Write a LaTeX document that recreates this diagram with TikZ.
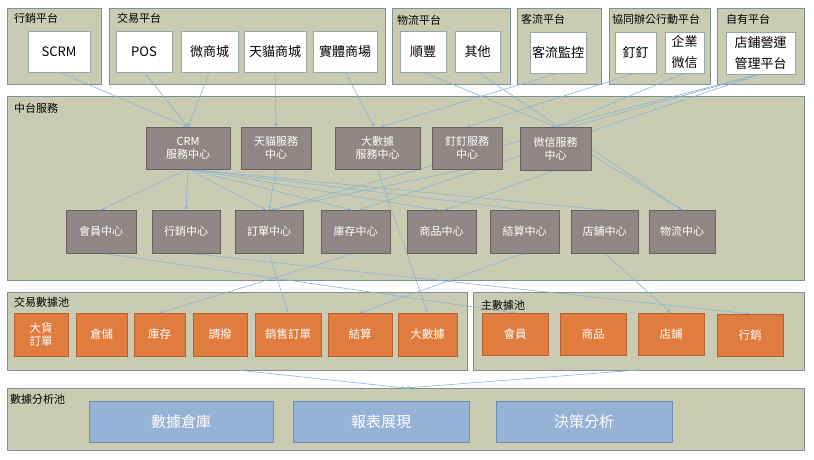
\documentclass[tikz,border=0pt]{standalone}
\usepackage{fontspec}
\setmainfont{Noto Sans CJK TC}
\usetikzlibrary{arrows.meta}
\definecolor{contfill}{RGB}{201,204,178}
\definecolor{contline}{RGB}{125,145,152}
\definecolor{wline}{RGB}{150,168,165}
\definecolor{svcfill}{RGB}{145,134,134}
\definecolor{svcline}{RGB}{105,96,96}
\definecolor{orfill}{RGB}{224,124,62}
\definecolor{orline}{RGB}{178,96,52}
\definecolor{blfill}{RGB}{149,179,214}
\definecolor{blline}{RGB}{112,142,180}
\definecolor{connc}{RGB}{140,180,212}
\pgfdeclarelayer{back}\pgfdeclarelayer{mid}\pgfsetlayers{back,mid,main}
\newcommand\bx[7]{\node[#1, minimum width={(#5-#3)*1pt}, minimum height={(#6-#4)*1pt}] (#2) at ({(#3+#5)/2},{(#4+#6)/2}) {#7};}
\tikzset{
 base/.style={inner sep=0pt, outer sep=0pt, align=center, line width=0.8pt},
 cont/.style={base, draw=contline, fill=contfill},
 wbox/.style={base, draw=wline, fill=white, text=black, font=\fontsize{13}{21}\selectfont},
 svc/.style={base, draw=svcline, fill=svcfill, text=white, font=\fontsize{11}{13}\selectfont},
 orbox/.style={base, draw=orline, fill=orfill, text=white, font=\fontsize{11.5}{13}\selectfont},
 blbox/.style={base, draw=blline, fill=blfill, text=white, font=\fontsize{15}{17}\selectfont},
 lbl/.style={inner sep=0pt, anchor=west, text=black, font=\fontsize{11}{12}\selectfont},
 conn/.style={draw=connc, line width=0.6pt, -{Stealth[length=4pt,width=3.5pt]}},
}
\begin{document}
\begin{tikzpicture}[x=1pt,y=-1pt]
\useasboundingbox (0,0) rectangle (814,460);
\begin{pgfonlayer}{back}
\fill[white] (0,0) rectangle (814,460);
\bx{cont}{c1}{7}{8}{101}{84}{}
\bx{cont}{c2}{109}{8}{385}{84}{}
\bx{cont}{c3}{392}{8}{510}{84}{}
\bx{cont}{c4}{517}{8}{601}{84}{}
\bx{cont}{c5}{609}{8}{710}{84}{}
\bx{cont}{c6}{717}{8}{804}{84}{}
\bx{cont}{c7}{7}{96}{804}{280}{}
\bx{cont}{c8}{7}{292}{467}{370}{}
\bx{cont}{c9}{473}{292}{804}{370}{}
\bx{cont}{c10}{7}{388}{804}{450}{}
\end{pgfonlayer}
% container labels
\node[lbl] (l1) at (14,18) {行銷平台};
\node[lbl] (l2) at (117,18) {交易平台};
\node[lbl] (l3) at (397,20) {物流平台};
\node[lbl] (l4) at (521,19) {客流平台};
\node[lbl] (l5) at (612,19) {協同辦公行動平台};
\node[lbl] (l6) at (726,19) {自有平台};
\node[lbl] (l7) at (14,108) {中台服務};
\node[lbl] (l8) at (14,302) {交易數據池};
\node[lbl] (l9) at (481,305) {主數據池};
\node[lbl] (l10) at (10,399) {數據分析池};
% top platform boxes
\bx{wbox}{scrm}{28}{31}{90}{72}{SCRM}
\bx{wbox}{pos}{116}{31}{172}{72}{POS}
\bx{wbox}{wsc}{181}{31}{238}{72}{微商城}
\bx{wbox}{tmsc}{244}{31}{306}{72}{天貓商城}
\bx{wbox}{stsc}{313}{31}{377}{72}{實體商場}
\bx{wbox}{sf}{400}{31}{446}{72}{順豐}
\bx{wbox}{qt}{455}{31}{500}{72}{其他}
\bx{wbox}{klk}{530}{32}{586}{73}{客流監控}
\bx{wbox}{dd}{615}{32}{656}{73}{釘釘}
\bx{wbox}{qywx}{665}{32}{704}{73}{企業\\微信}
\bx{wbox}{dp}{726}{32}{795}{74}{店鋪營運\\管理平台}
% service centres
\bx{svc}{crm}{146}{127}{230}{169}{CRM\\服務中心}
\bx{svc}{tmfw}{241}{127}{311}{169}{天貓服務\\中心}
\bx{svc}{dsj}{335}{127}{420}{169}{大數據\\服務中心}
\bx{svc}{ddfw}{432}{127}{502}{169}{釘釘服務\\中心}
\bx{svc}{wxfw}{520}{127}{591}{170}{微信服務\\中心}
% centres
\bx{svc}{hy}{66}{210}{136}{253}{會員中心}
\bx{svc}{xx}{152}{210}{220}{253}{行銷中心}
\bx{svc}{ddzx}{235}{210}{303}{253}{訂單中心}
\bx{svc}{kc}{321}{210}{390}{253}{庫存中心}
\bx{svc}{sp}{407}{210}{476}{253}{商品中心}
\bx{svc}{js}{490}{210}{559}{253}{結算中心}
\bx{svc}{dpz}{571}{210}{638}{253}{店鋪中心}
\bx{svc}{wl}{649}{210}{715}{253}{物流中心}
% transaction data pool
\bx{orbox}{dhdd}{14}{313}{68}{356}{大貨\\訂單}
\bx{orbox}{cc}{76}{313}{127}{356}{倉儲}
\bx{orbox}{kc2}{134}{313}{185}{356}{庫存}
\bx{orbox}{db}{193}{313}{247}{356}{調撥}
\bx{orbox}{xsdd}{255}{313}{321}{356}{銷售訂單}
\bx{orbox}{js2}{328}{313}{392}{356}{結算}
\bx{orbox}{dsj2}{398}{313}{457}{356}{大數據}
% master data pool
\bx{orbox}{hy2}{482}{313}{548}{355}{會員}
\bx{orbox}{sp2}{560}{313}{626}{355}{商品}
\bx{orbox}{dp2}{638}{313}{704}{355}{店鋪}
\bx{orbox}{xx2}{717}{314}{783}{356}{行銷}
% analysis pool
\bx{blbox}{ck}{89}{401}{273}{442}{數據倉庫}
\bx{blbox}{bb}{293}{401}{469}{442}{報表展現}
\bx{blbox}{jc}{496}{401}{672}{442}{決策分析}
% connectors
\begin{pgfonlayer}{mid}
\draw[conn] (scrm.south) -- (crm.north);
\draw[conn] (pos.south) -- (crm.north);
\draw[conn] (wsc.south) -- (crm.north);
\draw[conn] (tmsc.south) -- (tmfw.north);
\draw[conn] (stsc.south) -- ([xshift=-3pt]dsj.north);
\draw[conn] (klk.south) -- ([xshift=3pt]dsj.north);
\draw[conn] (sf.south) -- (wxfw.north);
\draw[conn] (qt.south) -- (wl.north);
\draw[conn] (dd.south) -- (ddfw.north);
\draw[conn] (qywx.south) -- (wxfw.north);
\draw[conn] (dp.south) -- (wxfw.north);
\draw[conn] (dp.south) -- ([xshift=4pt]kc.north);
\draw[conn] (dp.south) -- ([xshift=4pt]ddzx.north);
\draw[conn] (crm.south) -- (hy.north);
\draw[conn] (crm.south) -- (xx.north);
\draw[conn] (crm.south) -- ([xshift=-3pt]ddzx.north);
\draw[conn] (crm.south) -- ([xshift=-4pt]kc.north);
\draw[conn] (crm.south) -- ([xshift=-4pt]sp.north);
\draw[conn] (crm.south) -- (js.north);
\draw[conn] (crm.south) -- (dpz.north);
\draw[conn] (tmfw.south) -- (ddzx.north);
\draw[conn] (ddfw.south) -- ([xshift=2pt]ddzx.north);
\draw[conn] (wxfw.south) -- ([xshift=3pt]sp.north);
\draw[conn] ([yshift=-6pt]wxfw.east) -- (wl.north);
\draw[conn] (dsj.south) -- (dsj2.north);
\draw[conn] (hy.south) -- (hy2.north);
\draw[conn] (xx.south) -- (xx2.north);
\draw[conn] (ddzx.south) -- (xsdd.north);
\draw[conn] (kc.south) -- (kc2.north);
\draw[conn] (js.south) -- (js2.north);
\draw[conn] (dpz.south) -- (dp2.north);
\draw[conn] (c8.south) -- (c10.north);
\draw[conn] (c9.south) -- (c10.north);
\end{pgfonlayer}
\end{tikzpicture}
\end{document}
